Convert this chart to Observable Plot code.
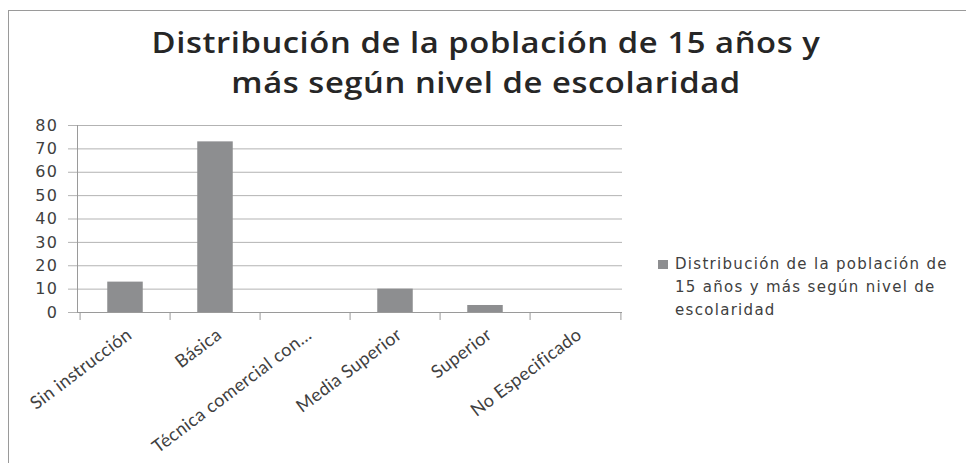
<!DOCTYPE html>
<html>
<head>
<meta charset="utf-8">
<script src="https://cdn.jsdelivr.net/npm/d3@7"></script>
<script src="https://cdn.jsdelivr.net/npm/@observablehq/plot@0.6"></script>
<style>
  body { margin: 0; background: #fff; }
  #wrap { position: relative; width: 966px; height: 463px; overflow: hidden; background: #fff; }
  #frame { position: absolute; left: 8px; top: 10px; width: 1000px; height: 500px;
           border-left: 1px solid #9a9a9a; border-top: 1px solid #9a9a9a; }
  #title { position: absolute; left: 0; top: 22px; width: 972px; text-align: center;
           font-family: "Open Sans", sans-serif; font-weight: 600; font-size: 28px; line-height: 40px;
           color: #262626; letter-spacing: 0.5px; transform: scaleX(1.17); transform-origin: 486px 0; }
  #plot { position: absolute; left: 0; top: 0; }
  #legend { position: absolute; left: 658px; top: 253px; font-family: "DejaVu Sans", sans-serif;
            font-size: 15px; line-height: 23px; color: #404040; letter-spacing: 1.3px; }
  #legend .sw { position: absolute; left: 0; top: 7px; width: 10px; height: 9px; background: #8d8e90; }
  #legend .tx { margin-left: 17px; width: 300px; }
  #plot g[aria-label="y-axis tick label"] text { letter-spacing: 1.5px; }
  #plot g[aria-label="x-axis tick label"] text { letter-spacing: 0.4px; }
</style>
</head>
<body>
<div id="wrap">
  <div id="frame"></div>
  <div id="plot"></div>
  <div id="title"></div>
  <div id="legend"><span class="sw"></span><div class="tx"></div></div>
</div>
<script>
const titleLines = ["Distribución de la población de 15 años y", "más según nivel de escolaridad"];
const categories = ["Sin instrucción", "Básica", "Técnica comercial con...", "Media Superior", "Superior", "No Especificado"];
const values = [13, 73, 0, 10, 3, 0];
const yTicks = [0, 10, 20, 30, 40, 50, 60, 70, 80];
const legendLines = ["Distribución de la población de", "15 años y más según nivel de", "escolaridad"];

const data = categories.map((c, i) => ({category: c, value: values[i]}));

document.getElementById("title").innerHTML = titleLines.join("<br>");
document.querySelector("#legend .tx").innerHTML = legendLines.join("<br>");

const W = 966, H = 463, mL = 77, mR = 344, mT = 125, mB = 151;
const bw = (W - mL - mR) / categories.length;
const axisGray = "#9a9a9a";

const chart = Plot.plot({
  width: W, height: H,
  marginLeft: mL, marginRight: mR, marginTop: mT, marginBottom: mB,
  style: {background: "transparent", overflow: "visible"},
  x: {domain: categories, padding: 0},
  y: {domain: [0, 80]},
  marks: [
    Plot.gridY({ticks: yTicks, stroke: "#b3b3b3", strokeOpacity: 1}),
    Plot.barY(data, {x: "category", y: "value", fill: "#8d8e90", insetLeft: bw * 0.3, insetRight: bw * 0.3}),
    Plot.axisY({ticks: yTicks, tickSize: 9, tickPadding: 10, stroke: "#b3b3b3", strokeOpacity: 1,
                fill: "#404040", fontSize: 16, fontFamily: "DejaVu Sans", label: null}),
    Plot.frame({anchor: "left", stroke: axisGray, strokeOpacity: 1}),
    Plot.ruleY([0], {stroke: axisGray}),
    Plot.axisX({tickSize: 8, dx: -bw / 2, tickFormat: () => "", stroke: axisGray, strokeOpacity: 1, label: null}),
    Plot.axisX({ticks: [categories[categories.length - 1]], tickSize: 8, dx: bw / 2, tickFormat: () => "",
                stroke: axisGray, strokeOpacity: 1, label: null}),
    Plot.axisX({tickSize: 0, tickPadding: 20, tickRotate: -37, dx: 4, fontFamily: "Lato", fontSize: 18,
                fill: "#404040", label: null})
  ]
});
document.getElementById("plot").appendChild(chart);
</script>
</body>
</html>
